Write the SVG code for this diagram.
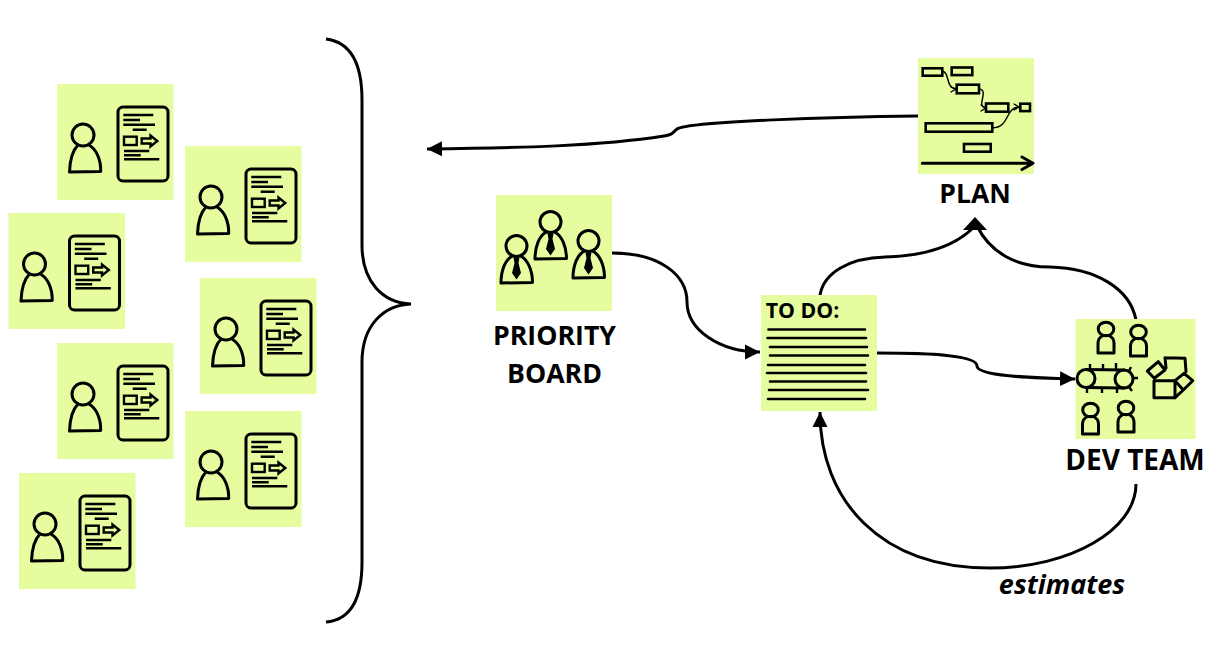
<svg xmlns="http://www.w3.org/2000/svg" width="1212" height="646" viewBox="0 0 1212 646">
<style>
text{font-family:"Open Sans","Liberation Sans",sans-serif;font-weight:700;fill:#000;text-anchor:middle}
.sticky{fill:#e6fd9f}
.ink{fill:none;stroke:#000;stroke-width:3;stroke-linecap:round;stroke-linejoin:round}
.rule{fill:none;stroke:#000;stroke-width:2.6;stroke-linecap:round}
.thin{fill:none;stroke:#000;stroke-width:1.4;stroke-linecap:round}
.box{fill:none;stroke:#000;stroke-width:2.6}
.tail{fill:none;stroke:#000;stroke-width:3}
.tick{fill:none;stroke:#000;stroke-width:2.4}
</style>
<defs>
<marker id="ah" markerUnits="userSpaceOnUse" markerWidth="16" markerHeight="16" refX="15" refY="8" orient="auto"><path d="M0 0.500L15 8L0 15.500Z" fill="#000"/></marker>
<g id="card">
<rect class="sticky" width="116.500" height="116"/>
<circle class="ink" cx="26" cy="51" r="11"/>
<path class="ink" d="M12.500 88C13 73 17 65 21 61M32 61C39 65 44 75 43.700 87.500L12.500 88"/>
<rect class="ink" x="61" y="23" width="50" height="74" rx="5"/>
<path class="tick" d="M66.300 31H96.300M66.300 36H83M66.300 40.700H98M75.700 45.700H89.700M67 67H92.300M67 71.300H83.700M67 75.300H102.300"/>
<rect class="tick" x="67" y="52.700" width="12.700" height="8.300"/>
<path class="tick" stroke-linejoin="miter" d="M84.700 54.500H93.500V51.500L100.300 57L93.500 62.500V59.500H84.700Z"/>
</g>
<g id="boss">
<circle class="ink" cx="0" cy="0" r="10.500"/>
<path class="ink" d="M-15.500 37C-15.500 24 -11 14 -5 10.500M5 10.500C11 14 16 24 16 36.500L-15.500 37"/>
<path d="M-3 11.500H3L2 17L4.500 27L0 33.500L-4.500 27L-2 17Z" fill="#000"/>
</g>
<g id="worker">
<ellipse class="ink" cx="0" cy="0" rx="7.800" ry="6.800"/>
<path class="ink" d="M-8 24V14C-8 10 -6 8 -3 6.500H3C6 8 8 10 8 14V24Z"/>
</g>
</defs>

<g id="requests">
<use id="card-1" href="#card" x="57" y="84"/>
<use id="card-2" href="#card" x="185" y="146"/>
<use id="card-3" href="#card" x="8.500" y="213"/>
<use id="card-4" href="#card" x="200" y="278"/>
<use id="card-5" href="#card" x="57" y="343"/>
<use id="card-6" href="#card" x="185" y="411"/>
<use id="card-7" href="#card" x="19" y="473"/>
</g>

<g id="brace"><path class="tail" d="M326 39C350 42 362 62 362 100V245C362 282 383 303 411 304C383 305 362 326 362 362V562C362 600 350 620 326 622"/></g>

<g id="connectors">
<path class="tail" marker-end="url(#ah)" d="M918 116C840 117 690 121 677 129C672 133 672 135 664 136C600 146 520 148 427 149"/>
<path class="tail" marker-end="url(#ah)" d="M612 253C660 253 687 275 687 302C687 330 720 352 760 352"/>
<path class="tail" d="M820 295C824 272 850 258 885 257C925 256 955 247 975 226"/>
<path class="tail" d="M1136 320C1130 288 1095 268 1050 267C1015 267 990 252 977 226"/>
<path d="M975 217L987 230H963Z" fill="#000"/>
<path class="tail" marker-end="url(#ah)" d="M877 353C930 353 977 355 977 366C977 376 1030 378 1075 379"/>
<path class="tail" marker-end="url(#ah)" d="M1136 484C1136 530 1070 568 990 568C880 568 820 500 820 412"/>
</g>

<g id="plan">
<rect class="sticky" x="918" y="58" width="116" height="116"/>
<g class="box">
<rect x="922.700" y="68.300" width="19.600" height="7.400"/>
<rect x="951.700" y="67.500" width="20.600" height="7.600"/>
<rect x="956.700" y="84.700" width="22.300" height="8.600"/>
<rect x="986" y="103.500" width="22.300" height="8.200"/>
<rect x="1020.300" y="103.700" width="9.700" height="7.400"/>
<rect x="925.700" y="123.300" width="66.600" height="8.400"/>
<rect x="964" y="144" width="26.700" height="7.700"/>
</g>
<path class="thin" d="M942 71.500C950 71 945 88 956 89M951 87L956 89L951 92M979 89C990 90 975 107 986 108M981 105L986 108L981 111M992 128C1010 128 1005 107 1019 107M1014 104L1019 107L1014 110"/>
<path class="ink" d="M922.300 163.300H1032.700M1022 157L1033 163.300L1022 169.500"/>
<text x="975" y="203" font-size="26.500">PLAN</text>
</g>

<g id="priority-board">
<rect class="sticky" x="496" y="195" width="116" height="116"/>
<use href="#boss" x="516.500" y="246"/>
<use href="#boss" x="550.500" y="222"/>
<use href="#boss" x="588.500" y="241"/>
<text x="554.500" y="345" font-size="26.700">PRIORITY</text>
<text x="554.500" y="383" font-size="26.700">BOARD</text>
</g>

<g id="todo">
<rect class="sticky" x="761" y="295" width="116" height="116"/>
<text x="802.500" y="318" font-size="21.300">TO DO:</text>
<path class="rule" d="M768.500 329.500H865M767.500 338H866M770 347H867M770 355.500H868M768 365H865M767 373H866M770 381.500H866M769 390H868M768 399H865"/>
</g>

<g id="dev-team">
<rect class="sticky" x="1075.500" y="319" width="120" height="120"/>
<use href="#worker" x="1106" y="329"/>
<use href="#worker" x="1138.500" y="332"/>
<use href="#worker" x="1090.500" y="410"/>
<use href="#worker" x="1126" y="408"/>
<circle class="ink" cx="1086" cy="378.500" r="9"/>
<circle class="ink" cx="1124" cy="379" r="9"/>
<path class="ink" d="M1086 369.500L1124 370M1086 387.500L1124 388"/>
<path class="tick" d="M1090 364V369M1103 364V369M1116 363V369M1131 367L1129 371M1134 378H1138M1129 387L1132 391M1117 389V393M1102 389V393M1087 389V393"/>
<g class="ink">
<rect x="1154" y="380.700" width="21" height="17"/>
<path d="M1147.300 371L1158.300 361.700L1165 370L1154.300 378.300ZM1165 357.700L1185 358.300L1186 371.500M1165 357.700L1166 368M1175 380.700L1184 373.300L1192.700 380.700L1183.300 390ZM1175 397.700L1183.300 390"/>
</g>
<text x="1135" y="470" font-size="28">DEV TEAM</text>
</g>

<text id="estimates" x="1062" y="594" font-size="27" font-style="italic">estimates</text>
</svg>
